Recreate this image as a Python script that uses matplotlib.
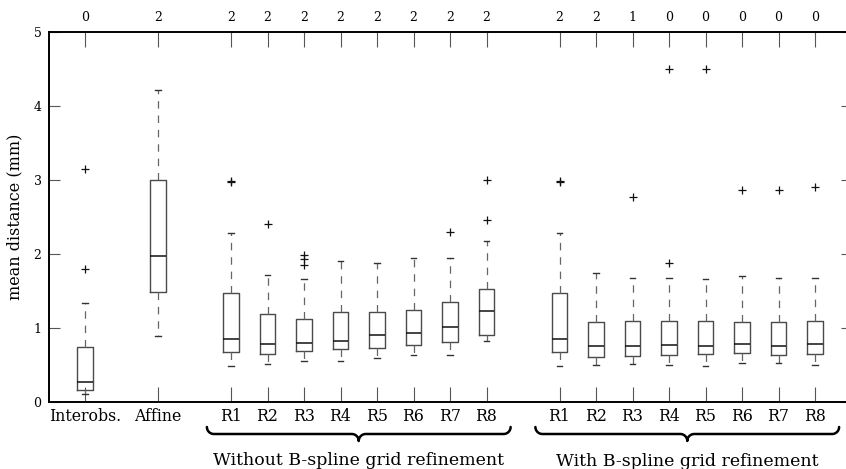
import numpy as np
import matplotlib
matplotlib.use("Agg")
import matplotlib.pyplot as plt

# box statistics (mm)
names = ["Interobs.", "Affine",
         "R1", "R2", "R3", "R4", "R5", "R6", "R7", "R8",
         "R1", "R2", "R3", "R4", "R5", "R6", "R7", "R8"]
positions = [1, 3, 5, 6, 7, 8, 9, 10, 11, 12, 14, 15, 16, 17, 18, 19, 20, 21]
top_counts = ["0", "2", "2", "2", "2", "2", "2", "2", "2", "2",
              "2", "2", "1", "0", "0", "0", "0", "0"]

whislo = [0.11, 0.89, 0.48, 0.52, 0.56, 0.55, 0.59, 0.64, 0.63, 0.83,
          0.48, 0.50, 0.51, 0.50, 0.49, 0.53, 0.53, 0.50]
q1 = [0.16, 1.49, 0.68, 0.65, 0.69, 0.71, 0.73, 0.77, 0.81, 0.91,
      0.68, 0.61, 0.62, 0.63, 0.65, 0.66, 0.64, 0.65]
med = [0.27, 1.97, 0.85, 0.78, 0.80, 0.83, 0.90, 0.93, 1.01, 1.23,
       0.85, 0.76, 0.76, 0.77, 0.76, 0.78, 0.76, 0.78]
q3 = [0.74, 3.00, 1.47, 1.19, 1.12, 1.21, 1.22, 1.25, 1.35, 1.53,
      1.47, 1.08, 1.10, 1.10, 1.09, 1.08, 1.08, 1.09]
whishi = [1.34, 4.22, 2.29, 1.71, 1.66, 1.91, 1.88, 1.95, 1.95, 2.17,
          2.29, 1.75, 1.68, 1.68, 1.66, 1.70, 1.68, 1.68]
fliers = [[1.80, 3.15], [], [2.97, 2.99], [2.41], [1.85, 1.93, 1.99], [], [], [], [2.30], [2.46, 3.00],
          [2.97, 2.99], [], [2.77], [1.88, 4.50], [4.50], [2.87], [2.87], [2.90]]

groups = [("Without B-spline grid refinement", 5, 12, 465),
          ("With B-spline grid refinement", 14, 21, 466)]

W, H = 846, 469
fig = plt.figure(figsize=(W / 100, H / 100), dpi=100)
ax = fig.add_axes([48.5 / W, 1 - 402 / H, 803 / W, 370 / H])

serif = ["DejaVu Serif"]

stats = []
for i in range(len(names)):
    stats.append(dict(whislo=whislo[i], q1=q1[i], med=med[i], q3=q3[i],
                      whishi=whishi[i], fliers=fliers[i]))

ax.bxp(stats, positions=positions, widths=0.42, showfliers=True,
       boxprops=dict(color="#4a4a4a", linewidth=1.0),
       medianprops=dict(color="#111111", linewidth=1.1),
       whiskerprops=dict(color="#666666", linewidth=0.9, linestyle=(0, (6, 5.5))),
       capprops=dict(color="#333333", linewidth=1.0),
       capwidths=0.16,
       flierprops=dict(marker="+", markersize=6, markeredgecolor="#111111",
                       markeredgewidth=0.9, linestyle="none"))

ax.set_xlim(0, 22)
ax.set_ylim(0, 5)
ax.set_yticks([0, 1, 2, 3, 4, 5])
ax.set_xticks(positions)
ax.set_xticklabels(names, fontsize=11.3, family=serif)
for lab in ax.get_yticklabels():
    lab.set_family(serif)
ax.tick_params(axis="y", direction="in", length=8, width=0.8, color="#555555",
               labelsize=9, pad=5, right=True)
ax.tick_params(axis="x", direction="in", length=11, width=0.8, color="#555555",
               pad=4, top=True)
ax.set_ylabel("mean distance (mm)", fontsize=11.5, family=serif, labelpad=7)
ax.spines["right"].set_visible(False)
for s in ["left", "bottom", "top"]:
    ax.spines[s].set_linewidth(1.4)

# counts above the plot
for p, c in zip(positions, top_counts):
    ax.text(p, 1.022, c, transform=ax.get_xaxis_transform(), ha="center",
            va="bottom", fontsize=9, family=serif)


# curly brace path in pixel units
def brace(x0, x1, y, r=7):
    xm = (x0 + x1) / 2
    t = np.linspace(0, np.pi / 2, 20)
    xs, ys = [], []
    xs += list(x0 + r - r * np.cos(t)); ys += list(y + r - r * np.sin(t))
    xs += list(xm - r + r * np.sin(t)); ys += list(y - r + r * np.cos(t))
    xs += list(xm + r - r * np.sin(t[::-1])); ys += list(y - r + r * np.cos(t[::-1]))
    xs += list(x1 - r + r * np.cos(t[::-1])); ys += list(y + r - r * np.sin(t[::-1]))
    return np.array(xs), np.array(ys)


fig.canvas.draw()
for label, a, b, base in groups:
    px0 = ax.transData.transform((a - 0.66, 0))[0]
    px1 = ax.transData.transform((b + 0.66, 0))[0]
    bx, by = brace(px0, px1, H - 434, r=7)
    fig.add_artist(plt.Line2D(bx / W, by / H, transform=fig.transFigure,
                              color="black", linewidth=1.8, solid_capstyle="round"))
    fig.text(((px0 + px1) / 2) / W, 1 - base / H, label, ha="center",
             va="baseline", fontsize=12.5, family=serif)

fig.savefig("out.png", dpi=100)
